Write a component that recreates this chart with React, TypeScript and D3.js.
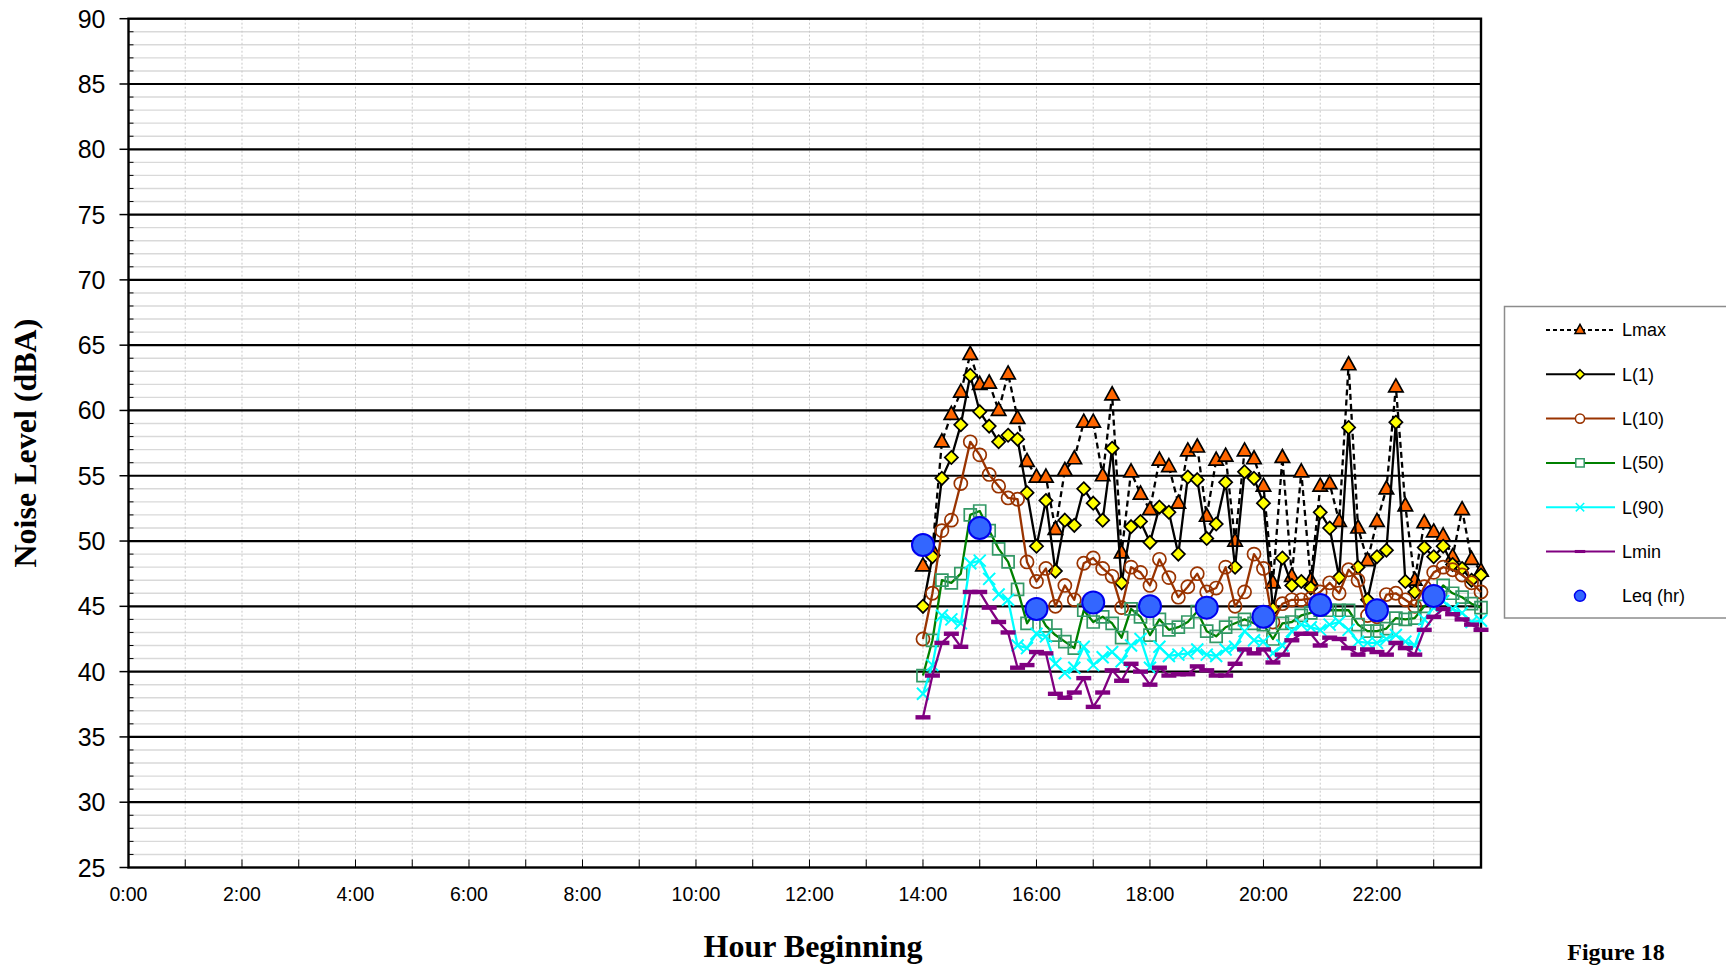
import { useEffect, useRef } from 'react';
import * as d3 from 'd3';

// 10-minute samples starting 14:00
const startHour = 14;
const stepMinutes = 10;

const lmax = [48.1, 49.3, 57.6, 59.7, 61.4, 64.3, 62.0, 62.1, 60.0, 62.8, 59.4, 56.1, 54.9, 54.9, 50.9, 55.4, 56.3, 59.1, 59.1, 55.0,
  61.2, 49.1, 55.3, 53.6, 52.4, 56.2, 55.7, 52.9, 56.9, 57.2, 51.9, 56.2, 56.5, 50.0, 56.9, 56.3, 54.2, 46.8, 56.4, 47.3,
  55.3, 47.0, 54.2, 54.4, 51.5, 63.5, 51.0, 48.5, 51.5, 54.0, 61.8, 52.7, 47.0, 51.4, 50.7, 50.4, 48.8, 52.4, 48.6, 47.7];
const l1 = [45.0, 48.8, 54.8, 56.4, 58.9, 62.7, 59.9, 58.8, 57.6, 58.1, 57.8, 53.7, 49.6, 53.1, 47.7, 51.6, 51.2, 54.0, 52.9, 51.6,
  57.1, 46.8, 51.1, 51.5, 49.9, 52.6, 52.2, 49.0, 54.9, 54.7, 50.2, 51.3, 54.5, 48.0, 55.3, 54.8, 52.9, 44.8, 48.7, 46.6,
  46.9, 46.4, 52.2, 51.0, 47.2, 58.7, 48.0, 45.5, 48.8, 49.3, 59.1, 46.9, 46.1, 49.5, 48.8, 49.6, 48.2, 47.9, 47.0, 47.4];
const l10 = [42.5, 46.0, 50.8, 51.6, 54.4, 57.6, 56.6, 55.1, 54.2, 53.3, 53.2, 48.4, 46.9, 47.9, 45.0, 46.6, 45.5, 48.3, 48.7, 47.9,
  47.3, 44.9, 48.0, 47.6, 46.6, 48.6, 47.2, 45.7, 46.5, 47.5, 46.1, 46.4, 48.0, 45.0, 46.1, 49.0, 47.9, 43.8, 45.2, 45.5,
  45.5, 45.6, 46.1, 46.8, 46.0, 47.8, 47.0, 44.3, 44.2, 45.9, 46.0, 45.5, 45.0, 46.5, 47.6, 48.0, 47.8, 47.4, 46.8, 46.1];
const l50 = [39.7, 42.4, 47.0, 46.8, 47.5, 52.0, 52.3, 50.8, 49.4, 48.4, 46.3, 43.7, 44.8, 43.5, 42.8, 42.3, 41.8, 44.7, 43.8, 44.2,
  43.7, 42.6, 44.8, 44.2, 42.8, 44.0, 43.2, 43.4, 43.8, 44.6, 43.1, 42.7, 43.4, 43.7, 44.0, 43.7, 43.6, 42.5, 43.7, 43.8,
  44.3, 44.5, 44.7, 44.7, 44.7, 44.7, 43.6, 43.1, 43.1, 43.3, 44.1, 44.0, 44.1, 45.0, 45.6, 46.6, 46.0, 45.7, 45.2, 44.9];
const l90 = [38.3, 40.5, 44.3, 44.0, 43.7, 48.3, 48.5, 47.1, 45.9, 45.5, 42.0, 41.8, 42.9, 42.7, 40.6, 39.9, 40.3, 41.9, 40.5, 41.1,
  41.5, 40.8, 42.0, 42.5, 40.3, 41.9, 41.2, 41.3, 41.4, 41.7, 41.3, 41.2, 41.7, 41.9, 43.1, 42.4, 42.3, 41.4, 42.0, 43.1,
  43.6, 43.4, 43.2, 43.6, 43.8, 43.2, 42.3, 42.2, 42.2, 42.5, 42.8, 42.3, 42.0, 44.0, 44.9, 45.4, 44.8, 44.5, 43.8, 43.9];
const lmin = [36.5, 39.7, 42.2, 42.9, 41.9, 46.1, 46.1, 44.9, 43.8, 43.0, 40.3, 40.5, 41.5, 41.4, 38.3, 38.0, 38.4, 39.5, 37.3, 38.4,
  40.1, 39.3, 40.6, 40.0, 39.0, 40.3, 39.7, 39.8, 39.8, 40.4, 40.1, 39.7, 39.7, 40.6, 41.7, 41.4, 41.7, 40.7, 41.3, 42.4,
  42.9, 42.9, 42.0, 42.6, 42.5, 41.8, 41.3, 41.7, 41.5, 41.3, 42.2, 41.8, 41.3, 43.2, 44.2, 44.8, 44.4, 44.0, 43.6, 43.2];

const leqHours = [14, 15, 16, 17, 18, 19, 20, 21, 22, 23];
const leq = [49.7, 51.0, 44.8, 45.3, 45.0, 44.9, 44.2, 45.1, 44.7, 45.8];

const yTicks = [25, 30, 35, 40, 45, 50, 55, 60, 65, 70, 75, 80, 85, 90];
const xTickHours = [0, 2, 4, 6, 8, 10, 12, 14, 16, 18, 20, 22];

const W = 1726;
const H = 967;
const SANS = "'Liberation Sans', Arial, sans-serif";
const SERIF = "'Liberation Serif', 'Times New Roman', serif";

type Marker = 'triangle' | 'diamond' | 'circle' | 'square' | 'x' | 'dash';

const seriesDefs: { name: string; values: number[]; color: string; dash?: string; marker: Marker; fill: string; mstroke: string }[] = [
  { name: 'Lmax', values: lmax, color: '#000000', dash: '6,4', marker: 'triangle', fill: '#FF6600', mstroke: '#000000' },
  { name: 'L(1)', values: l1, color: '#000000', marker: 'diamond', fill: '#FFFF00', mstroke: '#000000' },
  { name: 'L(10)', values: l10, color: '#993300', marker: 'circle', fill: 'none', mstroke: '#993300' },
  { name: 'L(50)', values: l50, color: '#008000', marker: 'square', fill: 'none', mstroke: '#339966' },
  { name: 'L(90)', values: l90, color: '#00FFFF', marker: 'x', fill: 'none', mstroke: '#00FFFF' },
  { name: 'Lmin', values: lmin, color: '#800080', marker: 'dash', fill: '#800080', mstroke: '#800080' },
];

function markerPath(m: Marker, s = 1): string {
  switch (m) {
    case 'triangle': return `M0,${-8 * s}L${7.2 * s},${5 * s}L${-7.2 * s},${5 * s}Z`;
    case 'diamond': return `M0,${-6.6 * s}L${6.6 * s},0L0,${6.6 * s}L${-6.6 * s},0Z`;
    case 'circle': return d3.symbol(d3.symbolCircle, 135 * s * s)() as string;
    case 'square': return `M${-6 * s},${-6 * s}H${6 * s}V${6 * s}H${-6 * s}Z`;
    case 'x': return `M${-6 * s},${-6 * s}L${6 * s},${6 * s}M${-6 * s},${6 * s}L${6 * s},${-6 * s}`;
    case 'dash': return `M${-7.5 * s},${-2.2 * s}H${7.5 * s}V${2.2 * s}H${-7.5 * s}Z`;
  }
}

export default function App() {
  const svgRef = useRef<SVGSVGElement>(null);

  useEffect(() => {
    if (!svgRef.current) return;
    const svg = d3.select(svgRef.current);
    svg.selectAll('*').remove();

    const left = 128.5, right = 1481, top = 18.7, bottom = 867.5;
    const x = d3.scaleLinear().domain([0, 23 + 50 / 60]).range([left, right]);
    const y = d3.scaleLinear().domain([25, 90]).range([bottom, top]);
    const timeOf = (i: number) => startHour + (i * stepMinutes) / 60;

    svg.append('rect').attr('width', W).attr('height', H).attr('fill', '#ffffff');

    const grid = svg.append('g');
    // minor horizontal grid
    grid.selectAll('line.minor')
      .data(d3.range(26, 90).filter(v => v % 5 !== 0))
      .enter().append('line')
      .attr('x1', left).attr('x2', right)
      .attr('y1', d => y(d)).attr('y2', d => y(d))
      .attr('stroke', '#d9d9d9').attr('stroke-width', 1.4);
    // vertical hourly dotted grid
    grid.selectAll('line.vgrid')
      .data(d3.range(1, 24))
      .enter().append('line')
      .attr('x1', d => x(d)).attr('x2', d => x(d))
      .attr('y1', top).attr('y2', bottom)
      .attr('stroke', '#c8c8c8').attr('stroke-width', 1).attr('stroke-dasharray', '2,2');
    // major horizontal grid
    grid.selectAll('line.major')
      .data(yTicks.filter(v => v > 25 && v < 90))
      .enter().append('line')
      .attr('x1', left).attr('x2', right)
      .attr('y1', d => y(d)).attr('y2', d => y(d))
      .attr('stroke', '#000000').attr('stroke-width', 2.2);

    // y axis ticks and labels
    const yAxis = svg.append('g');
    yAxis.selectAll('line.ymaj').data(yTicks).enter().append('line')
      .attr('x1', left - 9).attr('x2', left)
      .attr('y1', d => y(d)).attr('y2', d => y(d))
      .attr('stroke', '#000').attr('stroke-width', 1.5);
    yAxis.selectAll('line.ymin').data(d3.range(26, 90).filter(v => v % 5 !== 0)).enter().append('line')
      .attr('x1', left).attr('x2', left + 5)
      .attr('y1', d => y(d)).attr('y2', d => y(d))
      .attr('stroke', '#000').attr('stroke-width', 1);
    yAxis.selectAll('text').data(yTicks).enter().append('text')
      .attr('x', left - 23).attr('y', d => y(d))
      .attr('dy', '0.36em')
      .attr('text-anchor', 'end')
      .style('font-family', SANS).style('font-size', '25px')
      .text(d => d);

    // x axis ticks and labels
    const xAxis = svg.append('g');
    xAxis.selectAll('line').data(d3.range(0, 24)).enter().append('line')
      .attr('x1', d => x(d)).attr('x2', d => x(d))
      .attr('y1', bottom - 8).attr('y2', bottom)
      .attr('stroke', '#000').attr('stroke-width', 1);
    xAxis.selectAll('text').data(xTickHours).enter().append('text')
      .attr('x', d => x(d)).attr('y', bottom + 33)
      .attr('text-anchor', 'middle')
      .style('font-family', SANS).style('font-size', '19.5px')
      .text(d => `${d}:00`);

    // plot border
    svg.append('rect')
      .attr('x', left).attr('y', top)
      .attr('width', right - left).attr('height', bottom - top)
      .attr('fill', 'none').attr('stroke', '#000').attr('stroke-width', 2.4);

    // series lines and markers
    const line = d3.line<number>()
      .x((_, i) => x(timeOf(i)))
      .y(d => y(d));

    seriesDefs.forEach(s => {
      const g = svg.append('g');
      g.append('path')
        .attr('d', line(s.values) as string)
        .attr('fill', 'none')
        .attr('stroke', s.color)
        .attr('stroke-width', 2.3)
        .attr('stroke-dasharray', s.dash || null)
        .attr('stroke-linejoin', 'round');
      g.selectAll('path.m').data(s.values).enter().append('path')
        .attr('class', 'm')
        .attr('transform', (d, i) => `translate(${x(timeOf(i))},${y(d)})`)
        .attr('d', markerPath(s.marker))
        .attr('fill', s.fill)
        .attr('stroke', s.marker === 'dash' ? 'none' : s.mstroke)
        .attr('stroke-width', s.marker === 'x' ? 2 : 1.7);
    });

    // hourly Leq
    svg.append('g').selectAll('circle').data(leq).enter().append('circle')
      .attr('cx', (_, i) => x(leqHours[i]))
      .attr('cy', d => y(d))
      .attr('r', 11)
      .attr('fill', '#3366FF')
      .attr('stroke', '#0000EE')
      .attr('stroke-width', 2);

    // axis titles
    svg.append('text')
      .attr('transform', `translate(36,${(top + bottom) / 2}) rotate(-90)`)
      .attr('text-anchor', 'middle')
      .style('font-family', SERIF).style('font-size', '32px').style('font-weight', 'bold')
      .text('Noise Level (dBA)');
    svg.append('text')
      .attr('x', 813).attr('y', 957)
      .attr('text-anchor', 'middle')
      .style('font-family', SERIF).style('font-size', '32px').style('font-weight', 'bold')
      .text('Hour Beginning');
    svg.append('text')
      .attr('x', 1616).attr('y', 960)
      .attr('text-anchor', 'middle')
      .style('font-family', SERIF).style('font-size', '24px').style('font-weight', 'bold')
      .text('Figure 18');

    // legend
    const lg = svg.append('g');
    lg.append('rect')
      .attr('x', 1504.5).attr('y', 306.5)
      .attr('width', 240).attr('height', 311.5)
      .attr('fill', '#ffffff').attr('stroke', '#8c8c8c').attr('stroke-width', 1.5);
    const rowY = (i: number) => 330 + i * 44.3;
    seriesDefs.forEach((s, i) => {
      const yy = rowY(i);
      lg.append('line')
        .attr('x1', 1546).attr('x2', 1615).attr('y1', yy).attr('y2', yy)
        .attr('stroke', s.color).attr('stroke-width', 2)
        .attr('stroke-dasharray', s.dash ? '4,3' : null);
      lg.append('path')
        .attr('transform', `translate(1580,${yy})`)
        .attr('d', markerPath(s.marker, 0.7))
        .attr('fill', s.fill === 'none' ? '#ffffff' : s.fill)
        .attr('stroke', s.marker === 'dash' ? 'none' : s.mstroke)
        .attr('stroke-width', 1.5);
      lg.append('text')
        .attr('x', 1622).attr('y', yy).attr('dy', '0.36em')
        .style('font-family', SANS).style('font-size', '18px')
        .text(s.name);
    });
    const ly = rowY(6);
    lg.append('circle')
      .attr('cx', 1580).attr('cy', ly).attr('r', 5.5)
      .attr('fill', '#3366FF').attr('stroke', '#0000EE').attr('stroke-width', 1.5);
    lg.append('text')
      .attr('x', 1622).attr('y', ly).attr('dy', '0.36em')
      .style('font-family', SANS).style('font-size', '18px')
      .text('Leq (hr)');
  }, []);

  return (
    <svg
      ref={svgRef}
      width={W}
      height={H}
      style={{ position: 'absolute', left: 0, top: 0, display: 'block' }}
    />
  );
}
